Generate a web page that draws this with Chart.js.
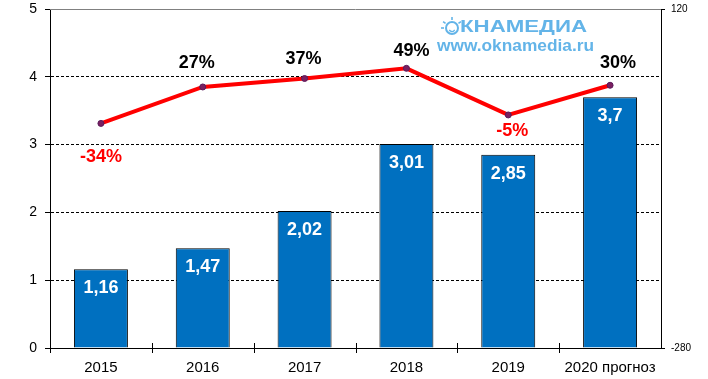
<!DOCTYPE html>
<html><head><meta charset="utf-8">
<script src="https://cdn.jsdelivr.net/npm/chart.js@4.4.0/dist/chart.umd.min.js"></script>
<style>html,body{margin:0;padding:0;background:#fff;overflow:hidden}#wrap{width:708px;height:379px;position:relative}</style>
</head><body><div id="wrap"><canvas id="c" width="708" height="379"></canvas></div>
<script>
const categories = ['2015', '2016', '2017', '2018', '2019', '2020 прогноз'];
const salesValues = [1.16, 1.47, 2.02, 3.01, 2.85, 3.7];
const salesLabels = ['1,16', '1,47', '2,02', '3,01', '2,85', '3,7'];
const growthValues = [-15, 28, 38, 50, -5, 30];
const growthLabels = ['-34%', '27%', '37%', '49%', '-5%', '30%'];
const leftTicks = [0, 1, 2, 3, 4, 5];
const rightTicks = [-280, 120];

const FONT = '"Liberation Sans", Arial, sans-serif';
const growthOffsets = [[0, 34], [-6, -24], [-1, -19], [5, -17], [4, 16], [8, -22]];

const decorPlugin = {
  id: 'decor',
  beforeDatasetsDraw(chart) {
    const ctx = chart.ctx, a = chart.chartArea;
    ctx.save();
    // top border line
    ctx.strokeStyle = '#808080'; ctx.lineWidth = 1;
    ctx.beginPath(); ctx.moveTo(a.left, Math.round(a.top) + 0.5); ctx.lineTo(a.right, Math.round(a.top) + 0.5); ctx.stroke();
    // watermark
    const blue = '#63b4e8';
    ctx.fillStyle = blue; ctx.strokeStyle = blue;
    const cx = 452, cy = 27, r = 6;
    ctx.lineWidth = 2;
    ctx.beginPath(); ctx.arc(cx, cy + 1, r, 0, Math.PI * 2); ctx.stroke();
    ctx.lineWidth = 1.3;
    ctx.beginPath(); ctx.arc(cx, cy + 1.5, 3, 0.15 * Math.PI, 0.85 * Math.PI); ctx.stroke();
    ctx.lineWidth = 1.6;
    const rays = [-Math.PI / 2, -Math.PI * 0.8, -Math.PI * 0.2, Math.PI];
    rays.forEach((ang) => {
      ctx.beginPath();
      ctx.moveTo(cx + Math.cos(ang) * (r + 2), cy + 1 + Math.sin(ang) * (r + 2));
      ctx.lineTo(cx + Math.cos(ang) * (r + 5), cy + 1 + Math.sin(ang) * (r + 5));
      ctx.stroke();
    });
    ctx.textBaseline = 'middle'; ctx.textAlign = 'left';
    ctx.font = 'bold 16px ' + FONT;
    let w = ctx.measureText('КНАМЕДИА').width;
    ctx.save(); ctx.translate(460, 28); ctx.scale(127 / w, 1); ctx.fillText('КНАМЕДИА', 0, 0); ctx.restore();
    ctx.font = 'bold 16px ' + FONT;
    w = ctx.measureText('www.oknamedia.ru').width;
    ctx.save(); ctx.translate(437, 47); ctx.scale(157 / w, 1); ctx.fillText('www.oknamedia.ru', 0, 0); ctx.restore();
    ctx.restore();
  },
  afterDraw(chart) {
    const ctx = chart.ctx, a = chart.chartArea;
    ctx.save();
    ctx.strokeStyle = '#000'; ctx.lineWidth = 1;
    // x-axis crossing ticks at category boundaries
    for (let i = 0; i < categories.length; i++) {
      const x = Math.round(a.left + (a.right - a.left) * i / categories.length) + 0.5;
      ctx.beginPath(); ctx.moveTo(x, a.bottom - (i === 0 ? 0 : 5)); ctx.lineTo(x, a.bottom + 5); ctx.stroke();
    }
    // bar value labels
    const barMeta = chart.getDatasetMeta(0);
    ctx.fillStyle = '#fff'; ctx.font = 'bold 18px ' + FONT;
    ctx.textAlign = 'center'; ctx.textBaseline = 'middle';
    barMeta.data.forEach((bar, i) => {
      ctx.fillText(salesLabels[i], bar.x, bar.y + 19);
    });
    // growth labels
    const lineMeta = chart.getDatasetMeta(1);
    lineMeta.data.forEach((pt, i) => {
      const t = growthLabels[i];
      ctx.fillStyle = t.startsWith('-') ? '#ff0000' : '#000';
      ctx.fillText(t, pt.x + growthOffsets[i][0], pt.y + growthOffsets[i][1]);
    });
    ctx.restore();
  }
};

new Chart(document.getElementById('c'), {
  data: {
    labels: categories,
    datasets: [
      {
        type: 'bar', label: 'sales', data: salesValues, yAxisID: 'y', order: 2,
        backgroundColor: '#0070c0', borderColor: '#000', borderWidth: 1,
        barPercentage: 0.53, categoryPercentage: 1
      },
      {
        type: 'line', label: 'growth', data: growthValues, yAxisID: 'y2', order: 1,
        borderColor: '#ff0000', borderWidth: 4, tension: 0,
        pointRadius: 3, pointBackgroundColor: '#7a1f60', pointBorderColor: '#5a1a5a', pointBorderWidth: 1
      }
    ]
  },
  options: {
    responsive: false, animation: false, devicePixelRatio: 1,
    layout: { padding: { top: 9, left: 0, right: 0, bottom: 0 } },
    plugins: { legend: { display: false }, tooltip: { enabled: false } },
    scales: {
      x: {
        afterFit(s) { s.height = 31; s.paddingLeft = 0; s.paddingRight = 0; },
        grid: { display: false },
        border: { color: '#000', width: 1 },
        ticks: { color: '#000', font: { family: FONT, size: 15 }, padding: 3, maxRotation: 0, autoSkip: false }
      },
      y: {
        position: 'left', min: 0, max: 5,
        afterFit(s) { s.width = 50; s.paddingTop = 0; s.paddingBottom = 0; },
        afterBuildTicks(s) { s.ticks = leftTicks.map(v => ({ value: v })); },
        border: { color: '#000', width: 1, dash: [3, 2] },
        grid: {
          color: (c) => (c.tick && (c.tick.value === 0 || c.tick.value === 5)) ? 'rgba(0,0,0,0)' : '#000',
          lineWidth: 1, tickLength: 5, tickColor: '#000', tickBorderDash: [], tickWidth: 1
        },
        ticks: { color: '#000', font: { family: FONT, size: 14 }, padding: 8 }
      },
      y2: {
        position: 'right', min: -280, max: 120,
        afterFit(s) { s.width = 47; s.paddingTop = 0; s.paddingBottom = 0; },
        afterBuildTicks(s) { s.ticks = rightTicks.map(v => ({ value: v })); },
        border: { color: '#000', width: 1 },
        grid: { drawOnChartArea: false, tickLength: 4, color: '#000' },
        ticks: { color: '#000', font: { family: FONT, size: 10 }, padding: 6 }
      }
    }
  },
  plugins: [decorPlugin]
});
</script></body></html>
